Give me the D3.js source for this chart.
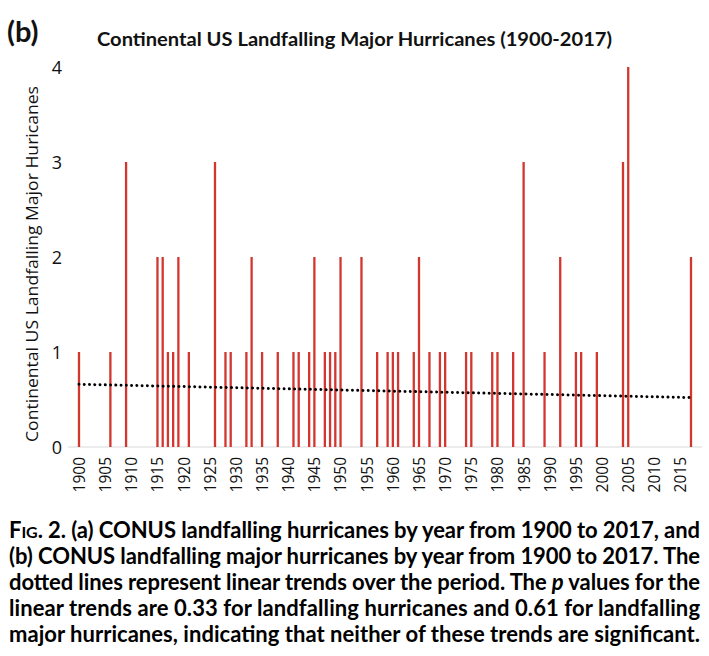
<!DOCTYPE html>
<html>
<head>
<meta charset="utf-8">
<script src="https://cdn.jsdelivr.net/npm/d3@7"></script>
<style>
  html, body { margin: 0; padding: 0; background: #fff; }
  svg { display: block; }
</style>
</head>
<body>
<svg id="chart" width="709" height="656"></svg>
<script>
// ---- data ----
const firstYear = 1900;
const lastYear = 2017;
const landfallYears = [1900, 1906, 1909, 1915, 1916, 1917, 1918, 1919, 1921, 1926, 1928, 1929,
  1932, 1933, 1935, 1938, 1941, 1942, 1944, 1945, 1947, 1948, 1949, 1950, 1954, 1957, 1959, 1960, 1961,
  1964, 1965, 1967, 1969, 1970, 1974, 1975, 1979, 1980, 1983, 1985, 1989, 1992, 1995, 1996, 1999,
  2004, 2005, 2017];
const majorCounts = [1, 1, 3, 2, 2, 1, 1, 2, 1, 3, 1, 1,
  1, 2, 1, 1, 1, 1, 1, 2, 1, 1, 1, 2, 2, 1, 1, 1, 1,
  1, 2, 1, 1, 1, 1, 1, 1, 1, 1, 3, 1, 2, 1, 1, 1,
  3, 4, 2];
const xTickLabels = ["1900","1905","1910","1915","1920","1925","1930","1935","1940","1945","1950","1955",
  "1960","1965","1970","1975","1980","1985","1990","1995","2000","2005","2010","2015"];
const yTickLabels = [0, 1, 2, 3, 4];
const trendYears = [1900, 2017];
const trendValues = [0.66, 0.52];
const captionLines = [
  "(a) CONUS landfalling hurricanes by year from 1900 to 2017, and",
  "(b) CONUS landfalling major hurricanes by year from 1900 to 2017. The",
  "dotted lines represent linear trends over the period. The ",
  "linear trends are 0.33 for landfalling hurricanes and 0.61  for landfalling",
  "major hurricanes, indicating that neither of these trends are significant."
];

// ---- drawing ----
const svg = d3.select("#chart");
const years = d3.range(firstYear, lastYear + 1);
const x = d3.scalePoint().domain(years).range([79, 691]);
const y = d3.scaleLinear().domain([0, 4]).range([447, 67]);

// title
svg.append("text").attr("x", 7).attr("y", 42)
  .attr("font-family", "Lato, 'Open Sans', sans-serif").attr("font-weight", 700)
  .attr("font-size", 29).attr("fill", "#111").text("(b)");
svg.append("text").attr("x", 97).attr("y", 46)
  .attr("font-family", "Lato, 'Open Sans', sans-serif").attr("font-weight", 700)
  .attr("font-size", 19.5).attr("fill", "#111")
  .attr("textLength", 515).attr("lengthAdjust", "spacingAndGlyphs")
  .text("Continental US Landfalling Major Hurricanes (1900-2017)");

// y axis label
svg.append("text")
  .attr("transform", "translate(38,264) rotate(-90)")
  .attr("text-anchor", "middle")
  .attr("font-family", "'Open Sans', Lato, sans-serif")
  .attr("font-size", 16).attr("fill", "#111")
  .attr("textLength", 356).attr("lengthAdjust", "spacingAndGlyphs")
  .text("Continental US Landfalling Major Huricanes");

// y tick labels
const yAxis = d3.axisLeft(y).tickValues(yTickLabels).tickSize(0).tickPadding(0).tickFormat(d3.format("d"));
const gy = svg.append("g").attr("transform", "translate(62,0)").call(yAxis);
gy.select(".domain").remove();
gy.selectAll("text").attr("font-family", "'Open Sans', Lato, sans-serif")
  .attr("font-size", 18).attr("fill", "#111").attr("text-anchor", "middle").attr("x", -5).attr("dy", "0.35em");

// baseline
svg.append("line").attr("x1", 68).attr("x2", 702).attr("y1", y(0)).attr("y2", y(0))
  .attr("stroke", "#d9d9d9").attr("stroke-width", 1);

// x tick labels
const xAxis = d3.axisBottom(x)
  .tickValues(xTickLabels.map(Number))
  .tickSize(0).tickPadding(0);
const gx = svg.append("g").attr("transform", `translate(0,${y(0)})`).call(xAxis);
gx.select(".domain").remove();
gx.selectAll("text")
  .attr("font-family", "'Open Sans', Lato, sans-serif").attr("font-size", 15.5).attr("fill", "#111")
  .attr("text-anchor", "end")
  .attr("transform", "translate(0,10) rotate(-90)")
  .attr("x", 0).attr("y", 0).attr("dy", "0.35em");

// bars
const bars = landfallYears.map((yr, i) => ({ year: yr, value: majorCounts[i] }));
svg.append("g").selectAll("line").data(bars).join("line")
  .attr("x1", d => x(d.year)).attr("x2", d => x(d.year))
  .attr("y1", y(0)).attr("y2", d => y(d.value))
  .attr("stroke", "#d3352f").attr("stroke-width", 2.3);

// trend line
const trend = trendYears.map((yr, i) => [x(yr), y(trendValues[i])]);
svg.append("path").attr("d", d3.line()(trend))
  .attr("fill", "none").attr("stroke", "#000").attr("stroke-width", 3)
  .attr("stroke-linecap", "round").attr("stroke-dasharray", "0.01 5.25");

// caption
const cap = svg.append("g").attr("font-family", "Lato, 'Open Sans', sans-serif")
  .attr("font-weight", 700).attr("font-size", 22).attr("fill", "#000");
const baselines = [538, 564, 590, 616, 642];
captionLines.forEach((line, i) => {
  const t = cap.append("text").attr("x", 9).attr("y", baselines[i])
    .attr("textLength", 691).attr("lengthAdjust", "spacing");
  if (i === 0) {
    t.append("tspan").text("F");
    t.append("tspan").attr("font-size", 16).text("IG");
    t.append("tspan").text(". 2. ");
    t.append("tspan").text(line);
  } else if (i === 2) {
    t.append("tspan").text(line);
    t.append("tspan").attr("font-style", "italic").text("p");
    t.append("tspan").text(" values for the");
  } else {
    t.text(line);
  }
});
</script>
</body>
</html>
